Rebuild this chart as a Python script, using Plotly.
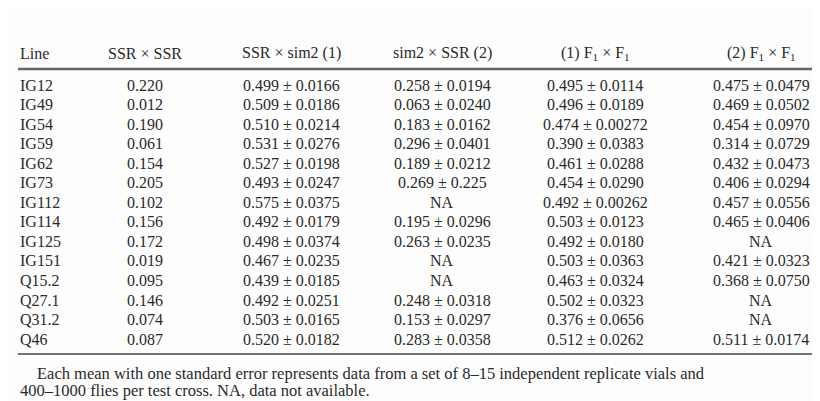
import plotly.graph_objects as go

lines = ['IG12', 'IG49', 'IG54', 'IG59', 'IG62', 'IG73', 'IG112', 'IG114',
         'IG125', 'IG151', 'Q15.2', 'Q27.1', 'Q31.2', 'Q46']
ssr_ssr = ['0.220', '0.012', '0.190', '0.061', '0.154', '0.205', '0.102', '0.156',
           '0.172', '0.019', '0.095', '0.146', '0.074', '0.087']
ssr_sim2 = ['0.499 ± 0.0166', '0.509 ± 0.0186', '0.510 ± 0.0214', '0.531 ± 0.0276',
            '0.527 ± 0.0198', '0.493 ± 0.0247', '0.575 ± 0.0375', '0.492 ± 0.0179',
            '0.498 ± 0.0374', '0.467 ± 0.0235', '0.439 ± 0.0185', '0.492 ± 0.0251',
            '0.503 ± 0.0165', '0.520 ± 0.0182']
sim2_ssr = ['0.258 ± 0.0194', '0.063 ± 0.0240', '0.183 ± 0.0162', '0.296 ± 0.0401',
            '0.189 ± 0.0212', '0.269 ± 0.225', 'NA', '0.195 ± 0.0296',
            '0.263 ± 0.0235', 'NA', 'NA', '0.248 ± 0.0318',
            '0.153 ± 0.0297', '0.283 ± 0.0358']
f1_1 = ['0.495 ± 0.0114', '0.496 ± 0.0189', '0.474 ± 0.00272', '0.390 ± 0.0383',
        '0.461 ± 0.0288', '0.454 ± 0.0290', '0.492 ± 0.00262', '0.503 ± 0.0123',
        '0.492 ± 0.0180', '0.503 ± 0.0363', '0.463 ± 0.0324', '0.502 ± 0.0323',
        '0.376 ± 0.0656', '0.512 ± 0.0262']
f1_2 = ['0.475 ± 0.0479', '0.469 ± 0.0502', '0.454 ± 0.0970', '0.314 ± 0.0729',
        '0.432 ± 0.0473', '0.406 ± 0.0294', '0.457 ± 0.0556', '0.465 ± 0.0406',
        'NA', '0.421 ± 0.0323', '0.368 ± 0.0750', 'NA', 'NA', '0.511 ± 0.0174']
headers = ['Line', 'SSR × SSR', 'SSR × sim2 (1)', 'sim2 × SSR (2)',
           '(1) F<sub>1</sub> × F<sub>1</sub>', '(2) F<sub>1</sub> × F<sub>1</sub>']
footnote = ['Each mean with one standard error represents data from a set of 8–15 independent replicate vials and',
            '400–1000 flies per test cross. NA, data not available.']

columns = [lines, ssr_ssr, ssr_sim2, sim2_ssr, f1_1, f1_2]
col_x = [10, 137, 283, 434, 587, 753]
col_anchor = ['left', 'center', 'center', 'center', 'center', 'center']
row_y0, row_dy = 77, 19.55
FONT = dict(family='Liberation Serif', size=16, color='#2a2a2a')


def pm(s):
    # wider spacing around the plus-minus sign, as in the print
    return s.replace(' ± ', '&nbsp;±&nbsp;')


ann = []
for x, a, h in zip(col_x, col_anchor, headers):
    ann.append(dict(x=x, y=45, text=h, xanchor=a, showarrow=False, font=FONT))
for x, a, col in zip(col_x, col_anchor, columns):
    for i, v in enumerate(col):
        ann.append(dict(x=x, y=row_y0 + i * row_dy, text=pm(v), xanchor=a,
                        showarrow=False, font=FONT))
ann.append(dict(x=27, y=365, text=footnote[0], xanchor='left', showarrow=False,
                font=dict(family='Liberation Serif', size=16.5, color='#2a2a2a')))
ann.append(dict(x=10, y=382, text=footnote[1], xanchor='left', showarrow=False,
                font=dict(family='Liberation Serif', size=16.5, color='#2a2a2a')))

shapes = [
    dict(type='line', xref='x', yref='y', x0=10, x1=810, y0=61, y1=61,
         line=dict(color='#666', width=2.5)),
    dict(type='line', xref='x', yref='y', x0=10, x1=810, y0=346, y1=346,
         line=dict(color='#444', width=1.5)),
]

fig = go.Figure(go.Scatter(x=[None], y=[None], mode='markers', hoverinfo='skip'))
fig.update_layout(
    width=820, height=401, margin=dict(l=0, r=0, t=0, b=0),
    paper_bgcolor='#fdfdfd', plot_bgcolor='#fdfdfd',
    xaxis=dict(range=[0, 820], showgrid=False, zeroline=False, showticklabels=False),
    yaxis=dict(range=[401, 0], showgrid=False, zeroline=False, showticklabels=False),
    annotations=ann, shapes=shapes, showlegend=False,
)
fig.write_html('out.html')
